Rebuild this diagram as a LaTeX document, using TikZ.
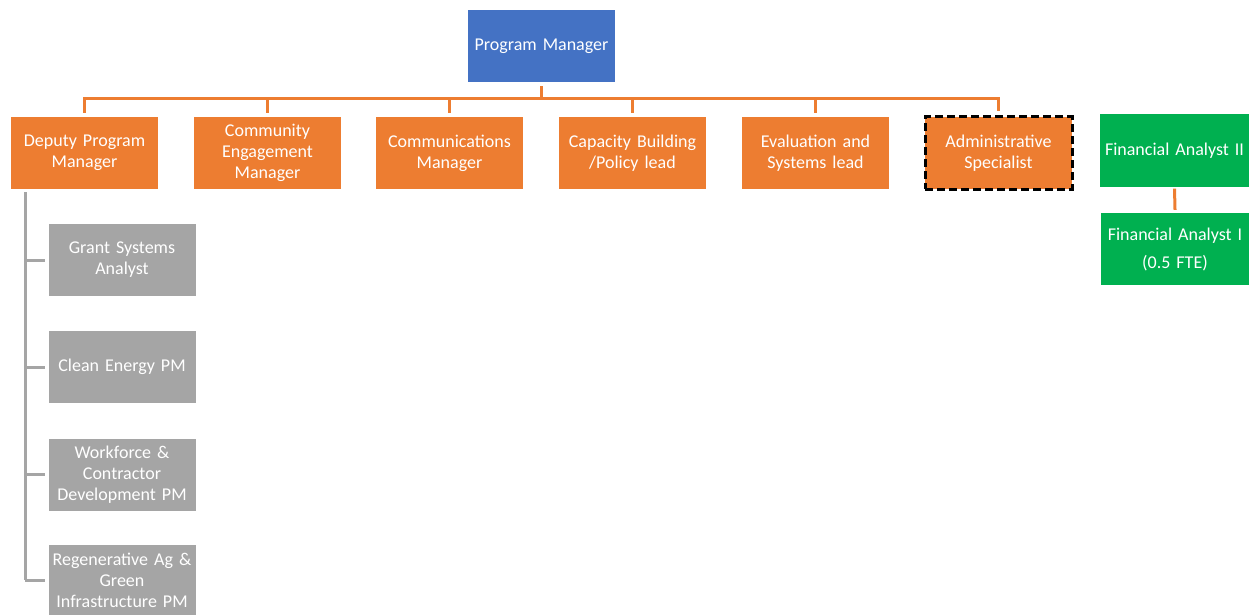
\documentclass[tikz,border=0pt]{standalone}
\usepackage{fontspec}
\setmainfont{Carlito}
\definecolor{pmblue}{HTML}{4472C4}
\definecolor{orng}{HTML}{ED7D31}
\definecolor{grn}{HTML}{00B050}
\definecolor{gry}{HTML}{A5A5A5}
\begin{document}
\begin{tikzpicture}[x=1pt,y=-1pt,
  box/.style={minimum width=147pt,minimum height=72pt,inner sep=0pt,align=center,text=white,font=\fontsize{18}{21}\selectfont,text width=147pt},
  obox/.style={box,fill=orng},
  gbox/.style={box,fill=gry},
  grbox/.style={box,fill=grn,minimum width=149pt,text width=149pt},
  oline/.style={draw=orng,line width=3pt},
  gline/.style={draw=gry,line width=3pt}]
\useasboundingbox (0,0) rectangle (1249,615);
\node[box,fill=pmblue] (pm) at (541.5,46) {Program Manager};
\node[obox] (dpm) at (84.5,153) {Deputy Program\\Manager};
\node[obox] (cem) at (267.5,153) {Community\\Engagement\\Manager};
\node[obox] (com) at (449.5,153) {Communications\\Manager};
\node[obox] (cap) at (632.5,153) {Capacity Building\\/Policy lead};
\node[obox] (eval) at (815.5,153) {Evaluation and\\Systems lead};
\node[obox,draw=black,line width=3pt,dash pattern=on 8pt off 4pt] (adm) at (998.5,153) {Administrative\\Specialist};
\node[grbox] (fa2) at (1174.5,150.5) {Financial Analyst II};
\node[grbox,minimum height=72pt] (fa1) at (1175,249) {Financial Analyst I\\[7pt](0.5 FTE)};
\node[gbox] (gsa) at (122,260) {Grant Systems\\Analyst};
\node[gbox] (cep) at (122,367) {Clean Energy PM};
\node[gbox] (wcd) at (122,474.5) {Workforce \&\\Contractor\\Development PM};
\node[gbox,minimum height=70pt] (rag) at (122,580) {Regenerative Ag \&\\Green\\Infrastructure PM};
\coordinate (hub) at (541.5,99);
\draw[oline] ([yshift=-4pt]pm.south) -- (hub);
\draw[oline,line cap=rect] (dpm.north |- hub) -- (adm.north |- hub);
\foreach \n in {dpm,cem,com,cap,eval,adm}
  \draw[oline] (\n.north |- hub) -- ([yshift=4pt]\n.north);
\draw[oline] ([yshift=-2pt]fa2.south) -- ([yshift=3pt]fa1.north);
\coordinate (sp) at (25,192);
\draw[gline] (sp) -- (25,580);
\foreach \n in {gsa,cep,wcd,rag}
  \draw[gline] (25,0 |- \n.west) -- ([xshift=-3pt]\n.west);
\end{tikzpicture}
\end{document}
